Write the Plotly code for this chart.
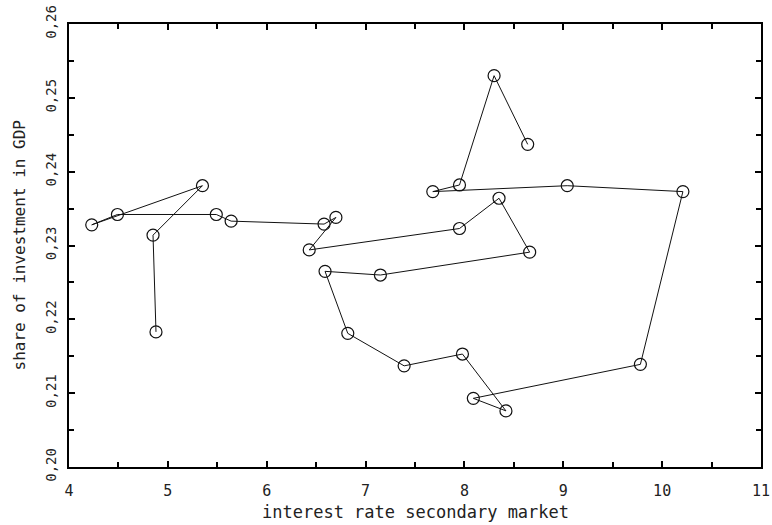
import plotly.graph_objects as go

interest_rate = [4.88, 4.85, 5.35, 4.23, 4.49, 5.49, 5.64, 6.58, 6.70, 6.43,
                 7.95, 8.35, 8.66, 7.15, 6.59, 6.82, 7.39, 7.98, 8.42, 8.09,
                 9.78, 10.21, 9.04, 7.68, 7.95, 8.30, 8.64]
investment_share = [0.2183, 0.2314, 0.2381, 0.2328, 0.2342, 0.2342, 0.2333, 0.2329, 0.2338, 0.2294,
                    0.2323, 0.2364, 0.2291, 0.2260, 0.2265, 0.2181, 0.2137, 0.2153, 0.2076, 0.2093,
                    0.2139, 0.2373, 0.2381, 0.2373, 0.2382, 0.2530, 0.2437]

x_ticks = [4, 5, 6, 7, 8, 9, 10, 11]
y_ticks = [0.20, 0.21, 0.22, 0.23, 0.24, 0.25, 0.26]

FONT = "DejaVu Sans Mono"

fig = go.Figure()
fig.add_trace(go.Scatter(
    x=interest_rate, y=investment_share, mode="lines+markers",
    line=dict(color="#111111", width=1),
    marker=dict(symbol="circle-open", size=12, color="#111111", line=dict(width=1.2)),
    showlegend=False,
))

axis_common = dict(
    showline=True, linecolor="black", linewidth=2, mirror="ticks",
    ticks="inside", ticklen=6, tickwidth=1.5, tickcolor="black",
    showgrid=False, zeroline=False, automargin=False,
    ticklabeloverflow="allow",
)

fig.update_xaxes(
    range=[4, 11], tickvals=x_ticks, ticktext=[str(v) for v in x_ticks],
    minor=dict(ticks="inside", ticklen=5, dtick=0.5, tick0=4, tickcolor="black", tickwidth=1.5),
    ticklabelstandoff=9,
    tickfont=dict(family=FONT, size=15, color="#222222"),
    **axis_common,
)
fig.update_yaxes(
    range=[0.20, 0.26], tickvals=y_ticks, tickformat=".2f", tickangle=-90,
    minor=dict(ticks="inside", ticklen=5, dtick=0.005, tick0=0.2, tickcolor="black", tickwidth=1.5),
    ticklabelstandoff=5,
    tickfont=dict(family=FONT, size=14, color="#222222"),
    **axis_common,
)

fig.add_annotation(text="interest rate secondary market", xref="paper", yref="paper",
                   x=0.5, y=0, yshift=-45, xanchor="center", yanchor="middle",
                   showarrow=False, font=dict(family=FONT, size=17, color="#222222"))
fig.add_annotation(text="share of investment in GDP", xref="paper", yref="paper",
                   x=0, y=0.5, xshift=-50, xanchor="center", yanchor="middle", textangle=-90,
                   showarrow=False, font=dict(family=FONT, size=16, color="#222222"))

fig.update_layout(
    width=772, height=525,
    margin=dict(l=69, r=11, t=24, b=58, pad=0),
    paper_bgcolor="white", plot_bgcolor="white",
    separators=", ",
)

# remove the page's default body margin so the figure fills the window
fig.write_html("out.html", config={"displayModeBar": False},
               post_script="document.body.style.margin='0';document.body.style.overflow='hidden';")
